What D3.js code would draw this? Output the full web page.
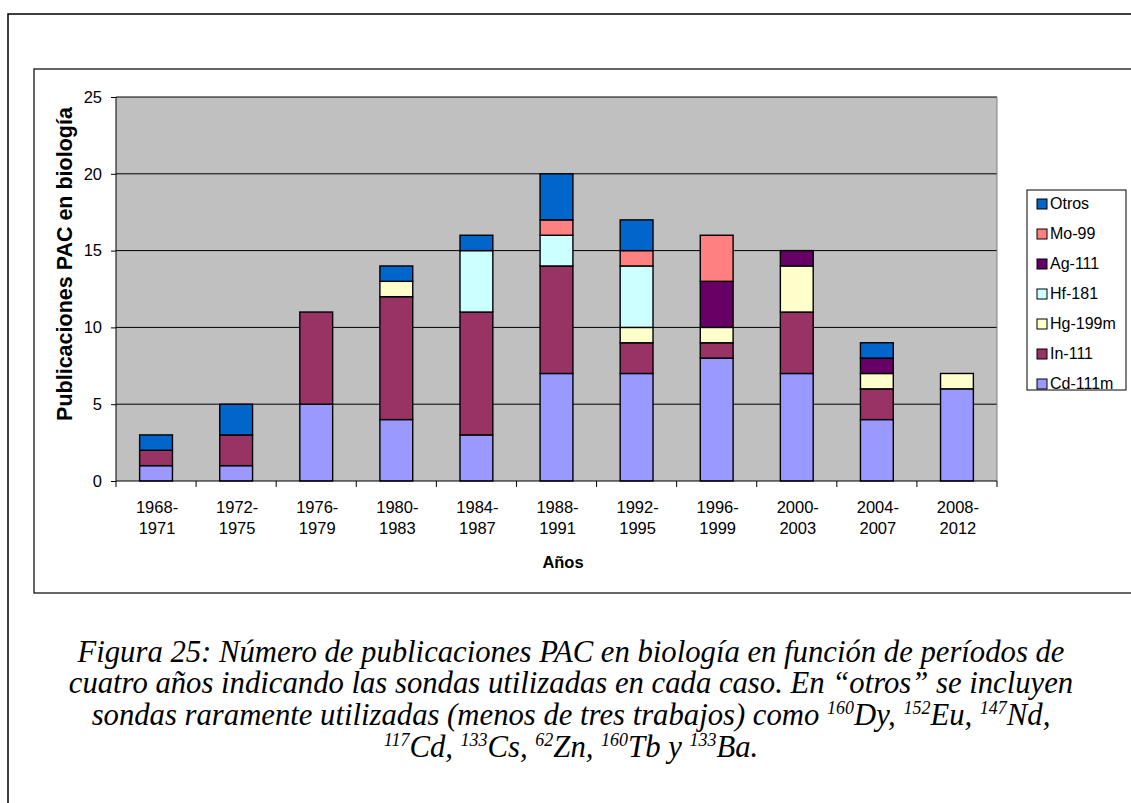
<!DOCTYPE html>
<html><head><meta charset="utf-8">
<script src="https://cdn.jsdelivr.net/npm/d3@7"></script>
<style>body{margin:0;background:#fff}svg{display:block}</style>
</head><body>
<svg id="c" width="1131" height="803"></svg>
<script>
const periods1 = ["1968-","1972-","1976-","1980-","1984-","1988-","1992-","1996-","2000-","2004-","2008-"];
const periods2 = ["1971","1975","1979","1983","1987","1991","1995","1999","2003","2007","2012"];
const series = ["Cd-111m","In-111","Hg-199m","Hf-181","Ag-111","Mo-99","Otros"];
const colors = ["#9999FF","#993366","#FFFFCC","#CCFFFF","#660066","#FF8080","#0066CC"];
const cd111m = [1,1,5,4,3,7,7,8,7,4,6];
const in111  = [1,2,6,8,8,7,2,1,4,2,0];
const hg199m = [0,0,0,1,0,0,1,1,3,1,1];
const hf181  = [0,0,0,0,4,2,4,0,0,0,0];
const ag111  = [0,0,0,0,0,0,0,3,1,1,0];
const mo99   = [0,0,0,0,0,1,1,3,0,0,0];
const otros  = [1,2,0,1,1,3,2,0,0,1,0];
const yTicks = [0,5,10,15,20,25];

const values = [cd111m,in111,hg199m,hf181,ag111,mo99,otros];
const rows = periods1.map((p,i)=>{const r={key:p+periods2[i]}; series.forEach((s,j)=>r[s]=values[j][i]); return r;});
const stack = d3.stack().keys(series)(rows);

const SANS = "Liberation Sans, Arial, sans-serif";
const SERIF = "Liberation Serif, Times New Roman, serif";
const FS = 16.5;

const svg = d3.select("#c");
svg.append("rect").attr("x",8).attr("y",14).attr("width",1200).attr("height",900).attr("fill","none").attr("stroke","#000").attr("stroke-width",1.5);
svg.append("rect").attr("x",34).attr("y",69).attr("width",1200).attr("height",524).attr("fill","none").attr("stroke","#000").attr("stroke-width",1.2);

const L=116,R=997,T=97,B=481;
const x = d3.scaleBand().domain(rows.map(r=>r.key)).range([L,R]).paddingInner(0.59).paddingOuter(0.295);
const xb = d3.scaleBand().domain(rows.map(r=>r.key)).range([L,R]);
const y = d3.scaleLinear().domain([0,25]).range([B,T]);

svg.append("rect").attr("x",L).attr("y",T).attr("width",R-L).attr("height",B-T).attr("fill","#C0C0C0");
svg.append("g").selectAll("line").data(yTicks.filter(t=>t>0)).join("line")
  .attr("x1",L).attr("x2",R).attr("y1",d=>y(d)).attr("y2",d=>y(d)).attr("stroke","#000").attr("stroke-width",1);
svg.append("line").attr("x1",R).attr("x2",R).attr("y1",T).attr("y2",B).attr("stroke","#808080");

const g = svg.append("g");
stack.forEach((layer,j)=>{
  g.selectAll(null).data(layer.filter(d=>d[1]-d[0]>0)).join("rect")
   .attr("x",d=>x(d.data.key)).attr("width",x.bandwidth())
   .attr("y",d=>y(d[1])).attr("height",d=>y(d[0])-y(d[1]))
   .attr("fill",colors[j]).attr("stroke","#000").attr("stroke-width",1.4);
});

const ya = svg.append("g").attr("transform",`translate(${L},0)`).call(d3.axisLeft(y).tickValues(yTicks).tickSize(5).tickPadding(9));
ya.select(".domain").attr("stroke","#000").attr("d",`M0,${T}V${B}`);
ya.selectAll("text").attr("font-family",SANS).attr("font-size",FS).attr("fill","#000");
svg.append("line").attr("x1",L).attr("x2",R).attr("y1",B).attr("y2",B).attr("stroke","#000");
const bounds = rows.map(r=>xb(r.key)).concat([R]);
svg.append("g").selectAll("line").data(bounds).join("line")
  .attr("x1",d=>d).attr("x2",d=>d).attr("y1",B).attr("y2",B+6).attr("stroke","#000");
const xl = svg.append("g").attr("font-family",SANS).attr("font-size",FS).attr("text-anchor","middle");
rows.forEach((r,i)=>{
  const cx = xb(r.key)+xb.bandwidth()/2;
  xl.append("text").attr("x",cx+1).attr("y",513).text(periods1[i]);
  xl.append("text").attr("x",cx+1).attr("y",534).text(periods2[i]);
});
svg.append("text").attr("x",563).attr("y",568).attr("text-anchor","middle").attr("font-family",SANS).attr("font-size",FS).attr("font-weight","bold").text("Años");
svg.append("text").attr("transform","translate(72,264) rotate(-90)").attr("text-anchor","middle").attr("font-family",SANS).attr("font-size",21.5).attr("font-weight","bold")
  .text("Publicaciones PAC en biología");

svg.append("rect").attr("x",1027).attr("y",190).attr("width",99).attr("height",200).attr("fill","#fff").attr("stroke","#000");
const lg = svg.append("g");
series.slice().reverse().forEach((s,i)=>{
  const yy = 203 + i*30;
  lg.append("rect").attr("x",1037).attr("y",yy-4).attr("width",10).attr("height",10).attr("fill",colors[series.indexOf(s)]).attr("stroke","#000");
  lg.append("text").attr("x",1050).attr("y",yy+6).attr("font-family",SANS).attr("font-size",16).text(s);
});

// caption
const CFS = 30.7;
function capLine(parts, yy){
  const t = svg.append("text").attr("font-family",SERIF).attr("font-style","italic").attr("font-size",CFS).attr("text-anchor","middle").attr("x",571).attr("y",yy);
  parts.forEach(([s,sup],i)=>{
    const prevSup = i>0 && parts[i-1][1]===1;
    const ts = t.append("tspan").text(s).attr("dy", sup ? -11 : (prevSup ? 11 : 0));
    if (sup) ts.attr("font-size",18);
  });
}
capLine([["Figura 25: Número de publicaciones PAC en biología en función de períodos de",0]],662);
capLine([["cuatro años indicando las sondas utilizadas en cada caso. En “otros” se incluyen",0]],693);
capLine([["sondas raramente utilizadas (menos de tres trabajos) como ",0],["160",1],["Dy, ",0],["152",1],["Eu, ",0],["147",1],["Nd,",0]],725);
capLine([["117",1],["Cd, ",0],["133",1],["Cs, ",0],["62",1],["Zn, ",0],["160",1],["Tb y ",0],["133",1],["Ba.",0]],757);
</script>
</body></html>
